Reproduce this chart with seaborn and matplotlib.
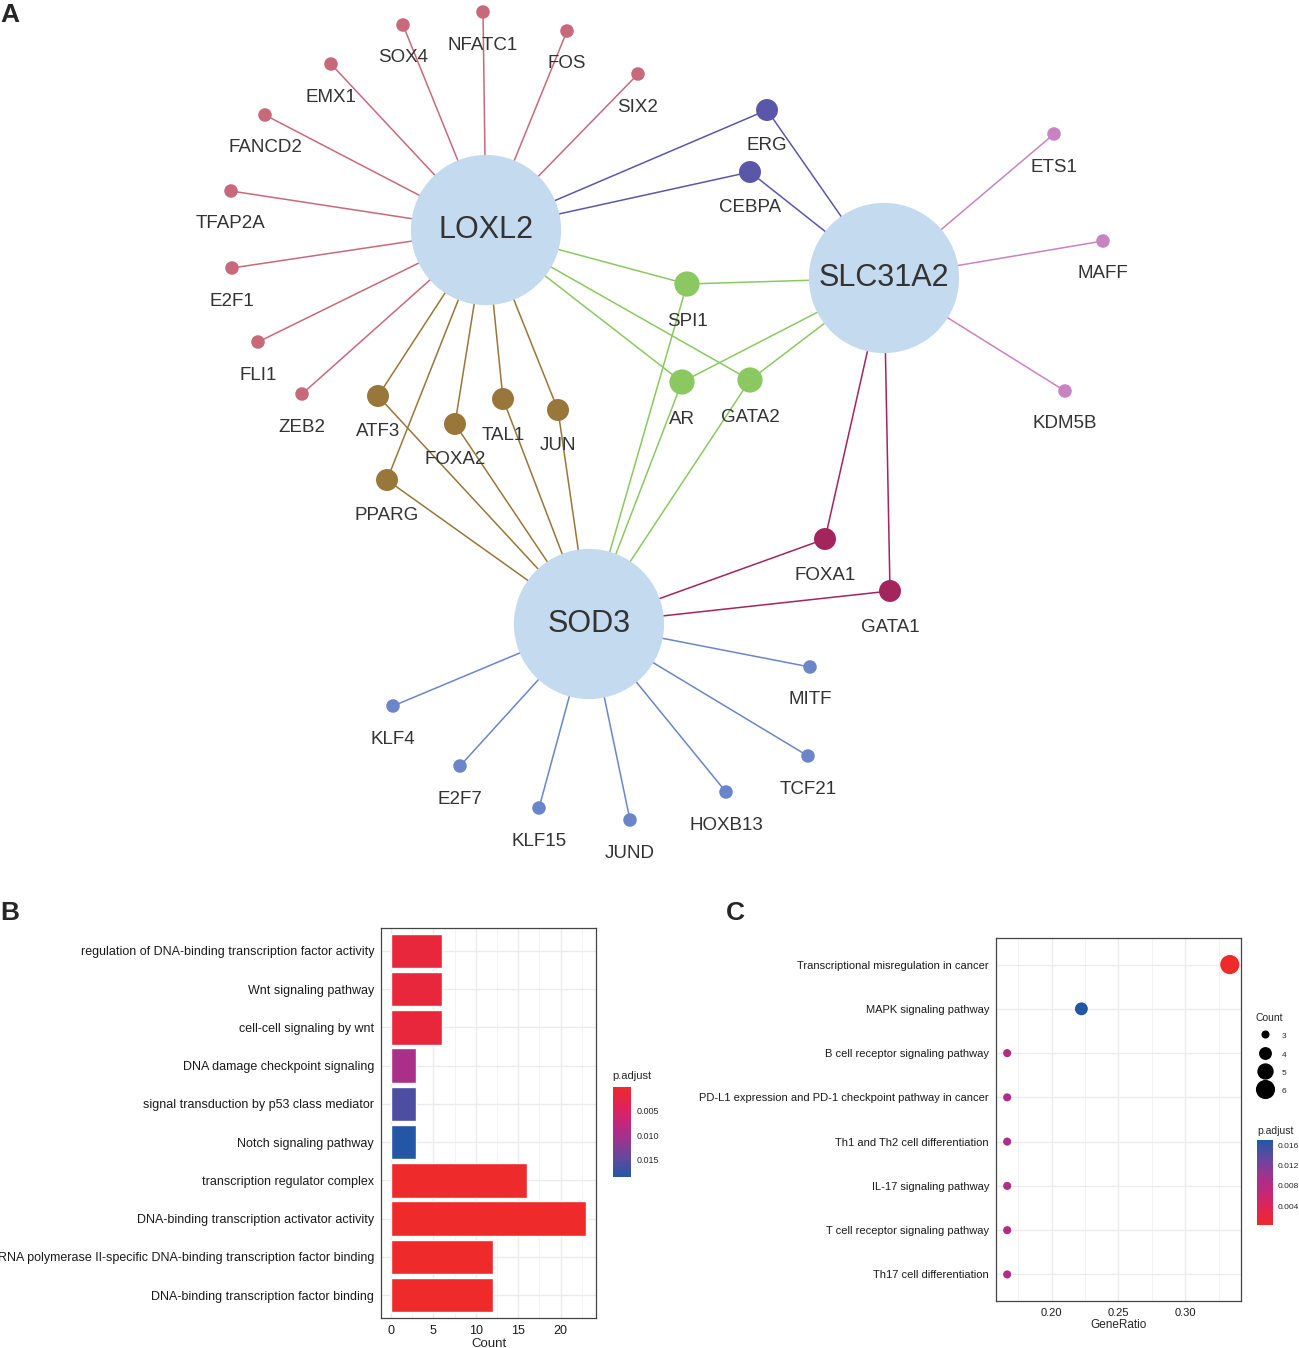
import numpy as np
import pandas as pd
import matplotlib
matplotlib.use("Agg")
import matplotlib.pyplot as plt
import seaborn as sns
from matplotlib.colors import LinearSegmentedColormap, Normalize
from matplotlib.cm import ScalarMappable
from matplotlib.lines import Line2D

# ---- panel A: gene-TF network (layout coordinates) ----
hubs = ["LOXL2", "SLC31A2", "SOD3"]
hub_x = [486, 884, 589]
hub_y = [230, 278, 624]

tf_names = ["SOX4", "NFATC1", "FOS", "SIX2", "EMX1", "FANCD2", "TFAP2A", "E2F1", "FLI1", "ZEB2",
            "ERG", "CEBPA",
            "ETS1", "MAFF", "KDM5B",
            "SPI1", "AR", "GATA2",
            "ATF3", "FOXA2", "TAL1", "JUN", "PPARG",
            "FOXA1", "GATA1",
            "KLF4", "E2F7", "KLF15", "JUND", "HOXB13", "TCF21", "MITF"]
tf_x = [403, 483, 567, 638, 331, 265, 231, 232, 258, 302,
        767, 750,
        1054, 1103, 1065,
        687, 682, 750,
        378, 455, 503, 558, 387,
        825, 890,
        393, 460, 539, 630, 726, 808, 810]
tf_y = [25, 12, 31, 74, 64, 115, 191, 268, 342, 394,
        110, 172,
        134, 241, 391,
        284, 382, 380,
        396, 424, 399, 410, 480,
        539, 591,
        706, 766, 808, 820, 792, 756, 667]
tf_group = (["L"] * 10 + ["LS"] * 2 + ["S"] * 3 + ["LSD"] * 3 +
            ["LD"] * 5 + ["SD"] * 2 + ["D"] * 7)

group_hubs = {"L": ["LOXL2"], "S": ["SLC31A2"], "D": ["SOD3"],
              "LS": ["LOXL2", "SLC31A2"], "LD": ["LOXL2", "SOD3"],
              "SD": ["SLC31A2", "SOD3"], "LSD": ["LOXL2", "SLC31A2", "SOD3"]}
group_color = {"L": "#C8697B", "S": "#C883C2", "D": "#6A85C8", "LS": "#5B57A8",
               "LD": "#99763A", "SD": "#A4245E", "LSD": "#8BC862", "hub": "#C4DAEF"}
group_kind = {"L": "small", "S": "small", "D": "small", "LS": "mid",
              "LD": "mid", "SD": "mid", "LSD": "big"}

# ---- panel B: GO enrichment bar plot ----
go_terms = ["regulation of DNA-binding transcription factor activity",
            "Wnt signaling pathway",
            "cell-cell signaling by wnt",
            "DNA damage checkpoint signaling",
            "signal transduction by p53 class mediator",
            "Notch signaling pathway",
            "transcription regulator complex",
            "DNA-binding transcription activator activity",
            "RNA polymerase II-specific DNA-binding transcription factor binding",
            "DNA-binding transcription factor binding"]
go_count = [6, 6, 6, 3, 3, 3, 16, 23, 12, 12]
go_padj = [0.0018, 0.0018, 0.0018, 0.0098, 0.0160, 0.0185, 0.0002, 0.0001, 0.0002, 0.0002]

# ---- panel C: KEGG dot plot ----
kegg_terms = ["Transcriptional misregulation in cancer",
              "MAPK signaling pathway",
              "B cell receptor signaling pathway",
              "PD-L1 expression and PD-1 checkpoint pathway in cancer",
              "Th1 and Th2 cell differentiation",
              "IL-17 signaling pathway",
              "T cell receptor signaling pathway",
              "Th17 cell differentiation"]
kegg_ratio = [6 / 18, 4 / 18, 3 / 18, 3 / 18, 3 / 18, 3 / 18, 3 / 18, 3 / 18]
kegg_count = [6, 4, 3, 3, 3, 3, 3, 3]
kegg_padj = [0.0003, 0.0170, 0.0085, 0.0085, 0.0085, 0.0085, 0.0085, 0.0085]

W, H = 1299, 1348
fig = plt.figure(figsize=(W / 100, H / 100), dpi=100)
sns.set_style("white")
plt.rcParams["font.family"] = ["Liberation Sans", "DejaVu Sans"]

padj_cmap = LinearSegmentedColormap.from_list(
    "padj", ["#EE2A2A", "#E02454", "#C4267C", "#9A3590", "#5F4A9E", "#2357A6"])

# ================= A =================
axA = fig.add_axes([0, 1 - 880 / H, 1, 880 / H])
nodes = pd.DataFrame({"name": tf_names, "x": tf_x, "y": tf_y, "group": tf_group})
nodes["kind"] = nodes["group"].map(group_kind)
hub_df = pd.DataFrame({"name": hubs, "x": hub_x, "y": hub_y, "group": "hub", "kind": "hub"})
hub_pos = dict(zip(hubs, zip(hub_x, hub_y)))

for _, r in nodes.iterrows():
    for h in group_hubs[r["group"]]:
        hx, hy = hub_pos[h]
        axA.plot([r["x"], hx], [r["y"], hy], color=group_color[r["group"]], lw=1.1, zorder=1)

all_nodes = pd.concat([nodes, hub_df], ignore_index=True)
sns.scatterplot(data=all_nodes, x="x", y="y", hue="group", palette=group_color,
                size="kind", sizes={"small": 95, "mid": 250, "big": 330, "hub": 11700},
                edgecolor="none", linewidth=0, alpha=1, legend=False, ax=axA, zorder=3)

label_off = {"small": 33, "mid": 36, "big": 38}
for _, r in nodes.iterrows():
    axA.text(r["x"], r["y"] + label_off[r["kind"]], r["name"], ha="center", va="center",
             fontsize=13.5, color="#333333", zorder=4)
for h, hx, hy in zip(hubs, hub_x, hub_y):
    axA.text(hx, hy, h, ha="center", va="center", fontsize=22, color="#333333", zorder=5)

axA.set_xlim(0, W)
axA.set_ylim(880, 0)
axA.axis("off")


def gg_axes(ax, xmajor, xminor):
    ax.set_xticks(xmajor)
    ax.set_xticks(xminor, minor=True)
    ax.set_axisbelow(True)
    ax.grid(True, which="major", color="#EBEBEB", lw=1.0)
    ax.grid(True, which="minor", axis="x", color="#F2F2F2", lw=0.6)
    for sp in ax.spines.values():
        sp.set_color("#444444")
        sp.set_linewidth(0.9)
    ax.tick_params(which="major", length=3, width=0.7, color="#444444",
                   labelcolor="#1A1A1A", pad=2)
    ax.tick_params(which="minor", length=0)
    ax.set_ylabel("")


# ================= B =================
axB = fig.add_axes([381 / W, 1 - 1318 / H, 215 / W, 390 / H])
normB = Normalize(0.0001, 0.0185)
dfB = pd.DataFrame({"Description": go_terms, "Count": go_count, "p.adjust": go_padj})
barcols = {t: padj_cmap(normB(p)) for t, p in zip(go_terms, go_padj)}
sns.barplot(data=dfB, x="Count", y="Description", hue="Description", palette=barcols,
            width=0.9, saturation=1, legend=False, ax=axB)
axB.set_xlim(-1.15, 24.15)
axB.set_ylim(9.6, -0.6)
gg_axes(axB, [0, 5, 10, 15, 20], [2.5, 7.5, 12.5, 17.5, 22.5])
axB.tick_params(axis="y", labelsize=9)
axB.tick_params(axis="x", labelsize=9)
axB.set_xlabel("Count", fontsize=9.5, labelpad=1)

caxB = fig.add_axes([613 / W, 1 - 1177 / H, 18 / W, 90 / H])
cbB = fig.colorbar(ScalarMappable(norm=normB, cmap=padj_cmap), cax=caxB)
caxB.invert_yaxis()
cbB.set_ticks([0.005, 0.010, 0.015])
cbB.set_ticklabels(["0.005", "0.010", "0.015"])
cbB.outline.set_visible(False)
caxB.tick_params(length=3, width=0.6, color="white", direction="in", labelsize=6.5, pad=4)
fig.text(612 / W, 1 - 1076 / H, "p.adjust", fontsize=8, va="center", ha="left")

# ================= C =================
axC = fig.add_axes([996 / W, 1 - 1301 / H, 245 / W, 363 / H])
normC = Normalize(0.0003, 0.017)
dfC = pd.DataFrame({"Description": kegg_terms, "GeneRatio": kegg_ratio,
                    "Count": kegg_count, "p.adjust": kegg_padj})
sizes_rng = (34, 190)
sns.scatterplot(data=dfC, x="GeneRatio", y="Description", hue="p.adjust", hue_norm=normC,
                palette=padj_cmap, size="Count", sizes=sizes_rng, size_norm=(3, 6),
                edgecolor="none", linewidth=0, legend=False, ax=axC, zorder=3)
axC.set_xlim(0.1583, 0.3417)
axC.set_ylim(7.6, -0.6)
gg_axes(axC, [0.20, 0.25, 0.30], [0.175, 0.225, 0.275, 0.325])
axC.set_xticklabels(["0.20", "0.25", "0.30"])
axC.tick_params(axis="both", labelsize=8)
axC.set_xlabel("GeneRatio", fontsize=8.5, labelpad=1)

cnt_levels = [3, 4, 5, 6]
handles = [Line2D([], [], marker="o", ls="", color="black", markeredgewidth=0,
                  markersize=np.sqrt(sizes_rng[0] + (c - 3) / 3 * (sizes_rng[1] - sizes_rng[0])))
           for c in cnt_levels]
leg = fig.legend(handles, [str(c) for c in cnt_levels], title="Count", loc="upper left",
                 bbox_to_anchor=(1256 / W, 1 - 1013 / H), frameon=False, fontsize=6,
                 title_fontsize=7.5, labelspacing=0.85, handleheight=1.7,
                 handletextpad=0.9, handlelength=2.2, borderaxespad=0, borderpad=0)
leg._legend_box.align = "left"

caxC = fig.add_axes([1257 / W, 1 - 1225 / H, 16 / W, 85 / H])
cbC = fig.colorbar(ScalarMappable(norm=normC, cmap=padj_cmap), cax=caxC)
cbC.set_ticks([0.004, 0.008, 0.012, 0.016])
cbC.set_ticklabels(["0.004", "0.008", "0.012", "0.016"])
cbC.outline.set_visible(False)
caxC.tick_params(length=3, width=0.6, color="white", direction="in", labelsize=6, pad=3)
fig.text(1257 / W, 1 - 1131 / H, "p.adjust", fontsize=7.5, va="center", ha="left")

# panel letters
for letter, px, py in [("A", 10, 15), ("B", 10, 913), ("C", 735, 913)]:
    fig.text(px / W, 1 - py / H, letter, fontsize=19, fontweight="bold",
             ha="center", va="center")

fig.savefig("out.png", dpi=100)
